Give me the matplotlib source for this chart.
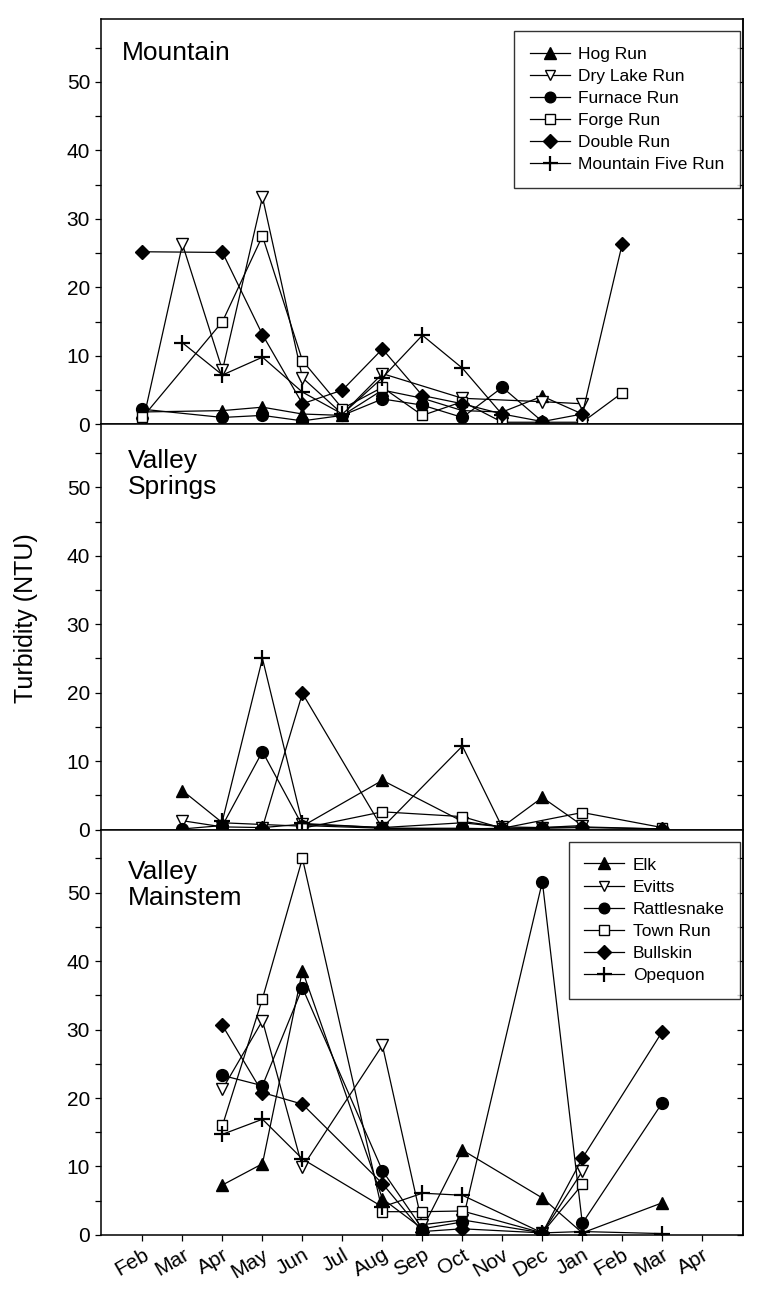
import matplotlib
matplotlib.use("Agg")
import matplotlib.pyplot as plt
from matplotlib.ticker import MultipleLocator
import numpy as np

plt.rcParams['font.family'] = ['Liberation Sans', 'DejaVu Sans']

# month index: 0 = Feb ... 14 = Apr (second year)
month_labels = ['Feb', 'Mar', 'Apr', 'May', 'Jun', 'Jul', 'Aug', 'Sep',
                'Oct', 'Nov', 'Dec', 'Jan', 'Feb', 'Mar', 'Apr']

# --- Mountain ---
hog_x = [0, 2, 3, 4, 5, 6, 7, 8, 9, 10, 11]
hog_y = [1.8, 2.0, 2.5, 1.5, 1.3, 5.0, 3.8, 2.0, 1.8, 4.1, 1.5]
drylake_x = [0, 1, 2, 3, 4, 5, 6, 8, 10, 11]
drylake_y = [0.1, 26.3, 7.9, 33.2, 6.8, 1.5, 7.4, 3.8, 3.3, 3.0]
furnace_x = [0, 2, 3, 4, 5, 6, 7, 8, 9, 10]
furnace_y = [2.2, 1.0, 1.3, 0.5, 1.3, 3.7, 2.8, 1.0, 5.4, 0.4]
forge_x = [0, 2, 3, 4, 5, 6, 7, 8, 9, 11, 12]
forge_y = [1.0, 15.0, 27.5, 9.3, 2.3, 5.4, 1.3, 3.3, 0.3, 0.3, 4.6]
double_x = [0, 2, 3, 4, 5, 6, 7, 8, 9, 10, 11, 12]
double_y = [25.2, 25.1, 13.1, 3.0, 5.0, 11.0, 4.2, 3.0, 1.5, 0.4, 1.5, 26.4]
mfive_x = [1, 2, 3, 4, 5, 6, 7, 8, 9]
mfive_y = [11.9, 7.2, 9.8, 4.7, 1.5, 6.8, 13.0, 8.2, 1.4]

# --- Valley Springs ---
sp_tri_x = [1, 2, 4, 6, 8, 9, 10, 11]
sp_tri_y = [5.7, 1.0, 0.5, 7.2, 1.2, 0.4, 4.7, 0.6]
sp_vee_x = [1, 2, 3, 4, 6, 8, 9, 10, 11]
sp_vee_y = [1.3, 0.4, 0.3, 0.8, 0.3, 1.0, 0.4, 0.3, 0.6]
sp_circ_x = [1, 2, 3, 4, 6, 8, 9, 10, 11, 13]
sp_circ_y = [0.1, 0.6, 11.4, 0.6, 0.2, 0.2, 0.1, 0.2, 0.3, 0.1]
sp_sq_x = [4, 6, 8, 9, 11, 13]
sp_sq_y = [0.2, 2.6, 1.9, 0.2, 2.5, 0.3]
sp_dia_x = [3, 4, 6, 8, 9, 10, 11, 13]
sp_dia_y = [0.3, 19.9, 0.2, 0.1, 0.2, 0.3, 0.4, 0.1]
sp_plus_x = [2, 3, 4, 6, 8, 9]
sp_plus_y = [1.3, 25.0, 0.9, 0.3, 12.2, 0.3]

# --- Valley Mainstem ---
elk_x = [2, 3, 4, 6, 7, 8, 10, 11, 13]
elk_y = [7.3, 10.4, 38.6, 5.3, 0.9, 12.4, 5.4, 0.3, 4.7]
evitts_x = [2, 3, 4, 6, 7, 8, 10, 11]
evitts_y = [21.3, 31.3, 9.9, 27.7, 1.5, 2.2, 0.3, 9.3]
rattle_x = [2, 3, 4, 6, 7, 8, 10, 11, 13]
rattle_y = [23.3, 21.8, 36.1, 9.4, 0.9, 1.9, 51.6, 1.7, 19.3]
town_x = [2, 3, 4, 6, 7, 8, 10, 11]
town_y = [16.0, 34.5, 55.0, 3.4, 3.4, 3.5, 0.3, 7.4]
bull_x = [2, 3, 4, 6, 7, 8, 10, 11, 13]
bull_y = [30.6, 20.8, 19.1, 7.5, 0.5, 0.9, 0.3, 11.2, 29.7]
opeq_x = [2, 3, 4, 6, 7, 8, 10, 11, 13]
opeq_y = [14.7, 16.9, 11.1, 4.1, 6.1, 5.8, 0.3, 0.5, 0.2]

# marker styles, same order in every panel
styles = [
    dict(marker='^', ms=9, mfc='black'),
    dict(marker='v', ms=8.5, mfc='white'),
    dict(marker='o', ms=8.5, mfc='black'),
    dict(marker='s', ms=7.5, mfc='white'),
    dict(marker='D', ms=7.5, mfc='black'),
    dict(marker='+', ms=12, mew=1.6),
]

panels = [
    ('Mountain', [(hog_x, hog_y, 'Hog Run'), (drylake_x, drylake_y, 'Dry Lake Run'),
                  (furnace_x, furnace_y, 'Furnace Run'), (forge_x, forge_y, 'Forge Run'),
                  (double_x, double_y, 'Double Run'), (mfive_x, mfive_y, 'Mountain Five Run')]),
    ('Valley\nSprings', [(sp_tri_x, sp_tri_y, None), (sp_vee_x, sp_vee_y, None),
                         (sp_circ_x, sp_circ_y, None), (sp_sq_x, sp_sq_y, None),
                         (sp_dia_x, sp_dia_y, None), (sp_plus_x, sp_plus_y, None)]),
    ('Valley\nMainstem', [(elk_x, elk_y, 'Elk'), (evitts_x, evitts_y, 'Evitts'),
                          (rattle_x, rattle_y, 'Rattlesnake'), (town_x, town_y, 'Town Run'),
                          (bull_x, bull_y, 'Bullskin'), (opeq_x, opeq_y, 'Opequon')]),
]

fig = plt.figure(figsize=(7.69, 12.99), dpi=100)
fig.subplots_adjust(left=0.1307, right=0.9668, top=0.9854, bottom=0.0493, hspace=0)
axes = fig.subplots(3, 1, sharex=True)

label_pos = [(0.033, 0.915, 'center'), (0.043, 0.94, 'top'), (0.043, 0.925, 'top')]

for i, (ax, (title, series)) in enumerate(zip(axes, panels)):
    for (xs, ys, name), st in zip(series, styles):
        ax.plot(xs, ys, color='black', lw=0.9, mec='black', label=name, **st)
    ax.set_ylim(0, 59.2)
    ax.set_xlim(-1.05, 15.03)
    ax.yaxis.set_major_locator(MultipleLocator(10))
    ax.yaxis.set_minor_locator(MultipleLocator(5))
    ax.set_xticks(range(len(month_labels)))
    ax.tick_params(axis='y', which='both', direction='out', length=4, width=0.9,
                   labelsize=15, left=True, right=False)
    ax.tick_params(axis='x', direction='out', length=4, width=0.9, labelsize=15)
    # right side ticks pointing in
    axr = ax.secondary_yaxis('right')
    axr.yaxis.set_major_locator(MultipleLocator(10))
    axr.yaxis.set_minor_locator(MultipleLocator(5))
    axr.tick_params(which='both', direction='in', length=4, width=0.9, labelright=False)
    for sp in ax.spines.values():
        sp.set_linewidth(1.1)
    axr.spines['right'].set_linewidth(1.1)
    lx, ly, va = label_pos[i]
    ax.text(lx, ly, title, transform=ax.transAxes, fontsize=19, va=va, ha='left',
            linespacing=1.1)
    if i != 1:
        leg = ax.legend(loc='upper right', bbox_to_anchor=(0.995, 0.97), borderaxespad=0,
                        fontsize=12.5, frameon=True, fancybox=False, handlelength=2.3,
                        labelspacing=0.4, borderpad=0.9, handletextpad=0.5,
                        markerscale=0.9)
        leg.get_frame().set_edgecolor('black')
        leg.get_frame().set_linewidth(1.0)

axes[2].set_xticklabels(month_labels, rotation=30, ha='right', rotation_mode='anchor')

fig.text(0.034, 0.524, 'Turbidity (NTU)', rotation=90, fontsize=18, ha='center', va='center')

fig.savefig('out.png', dpi=100)
